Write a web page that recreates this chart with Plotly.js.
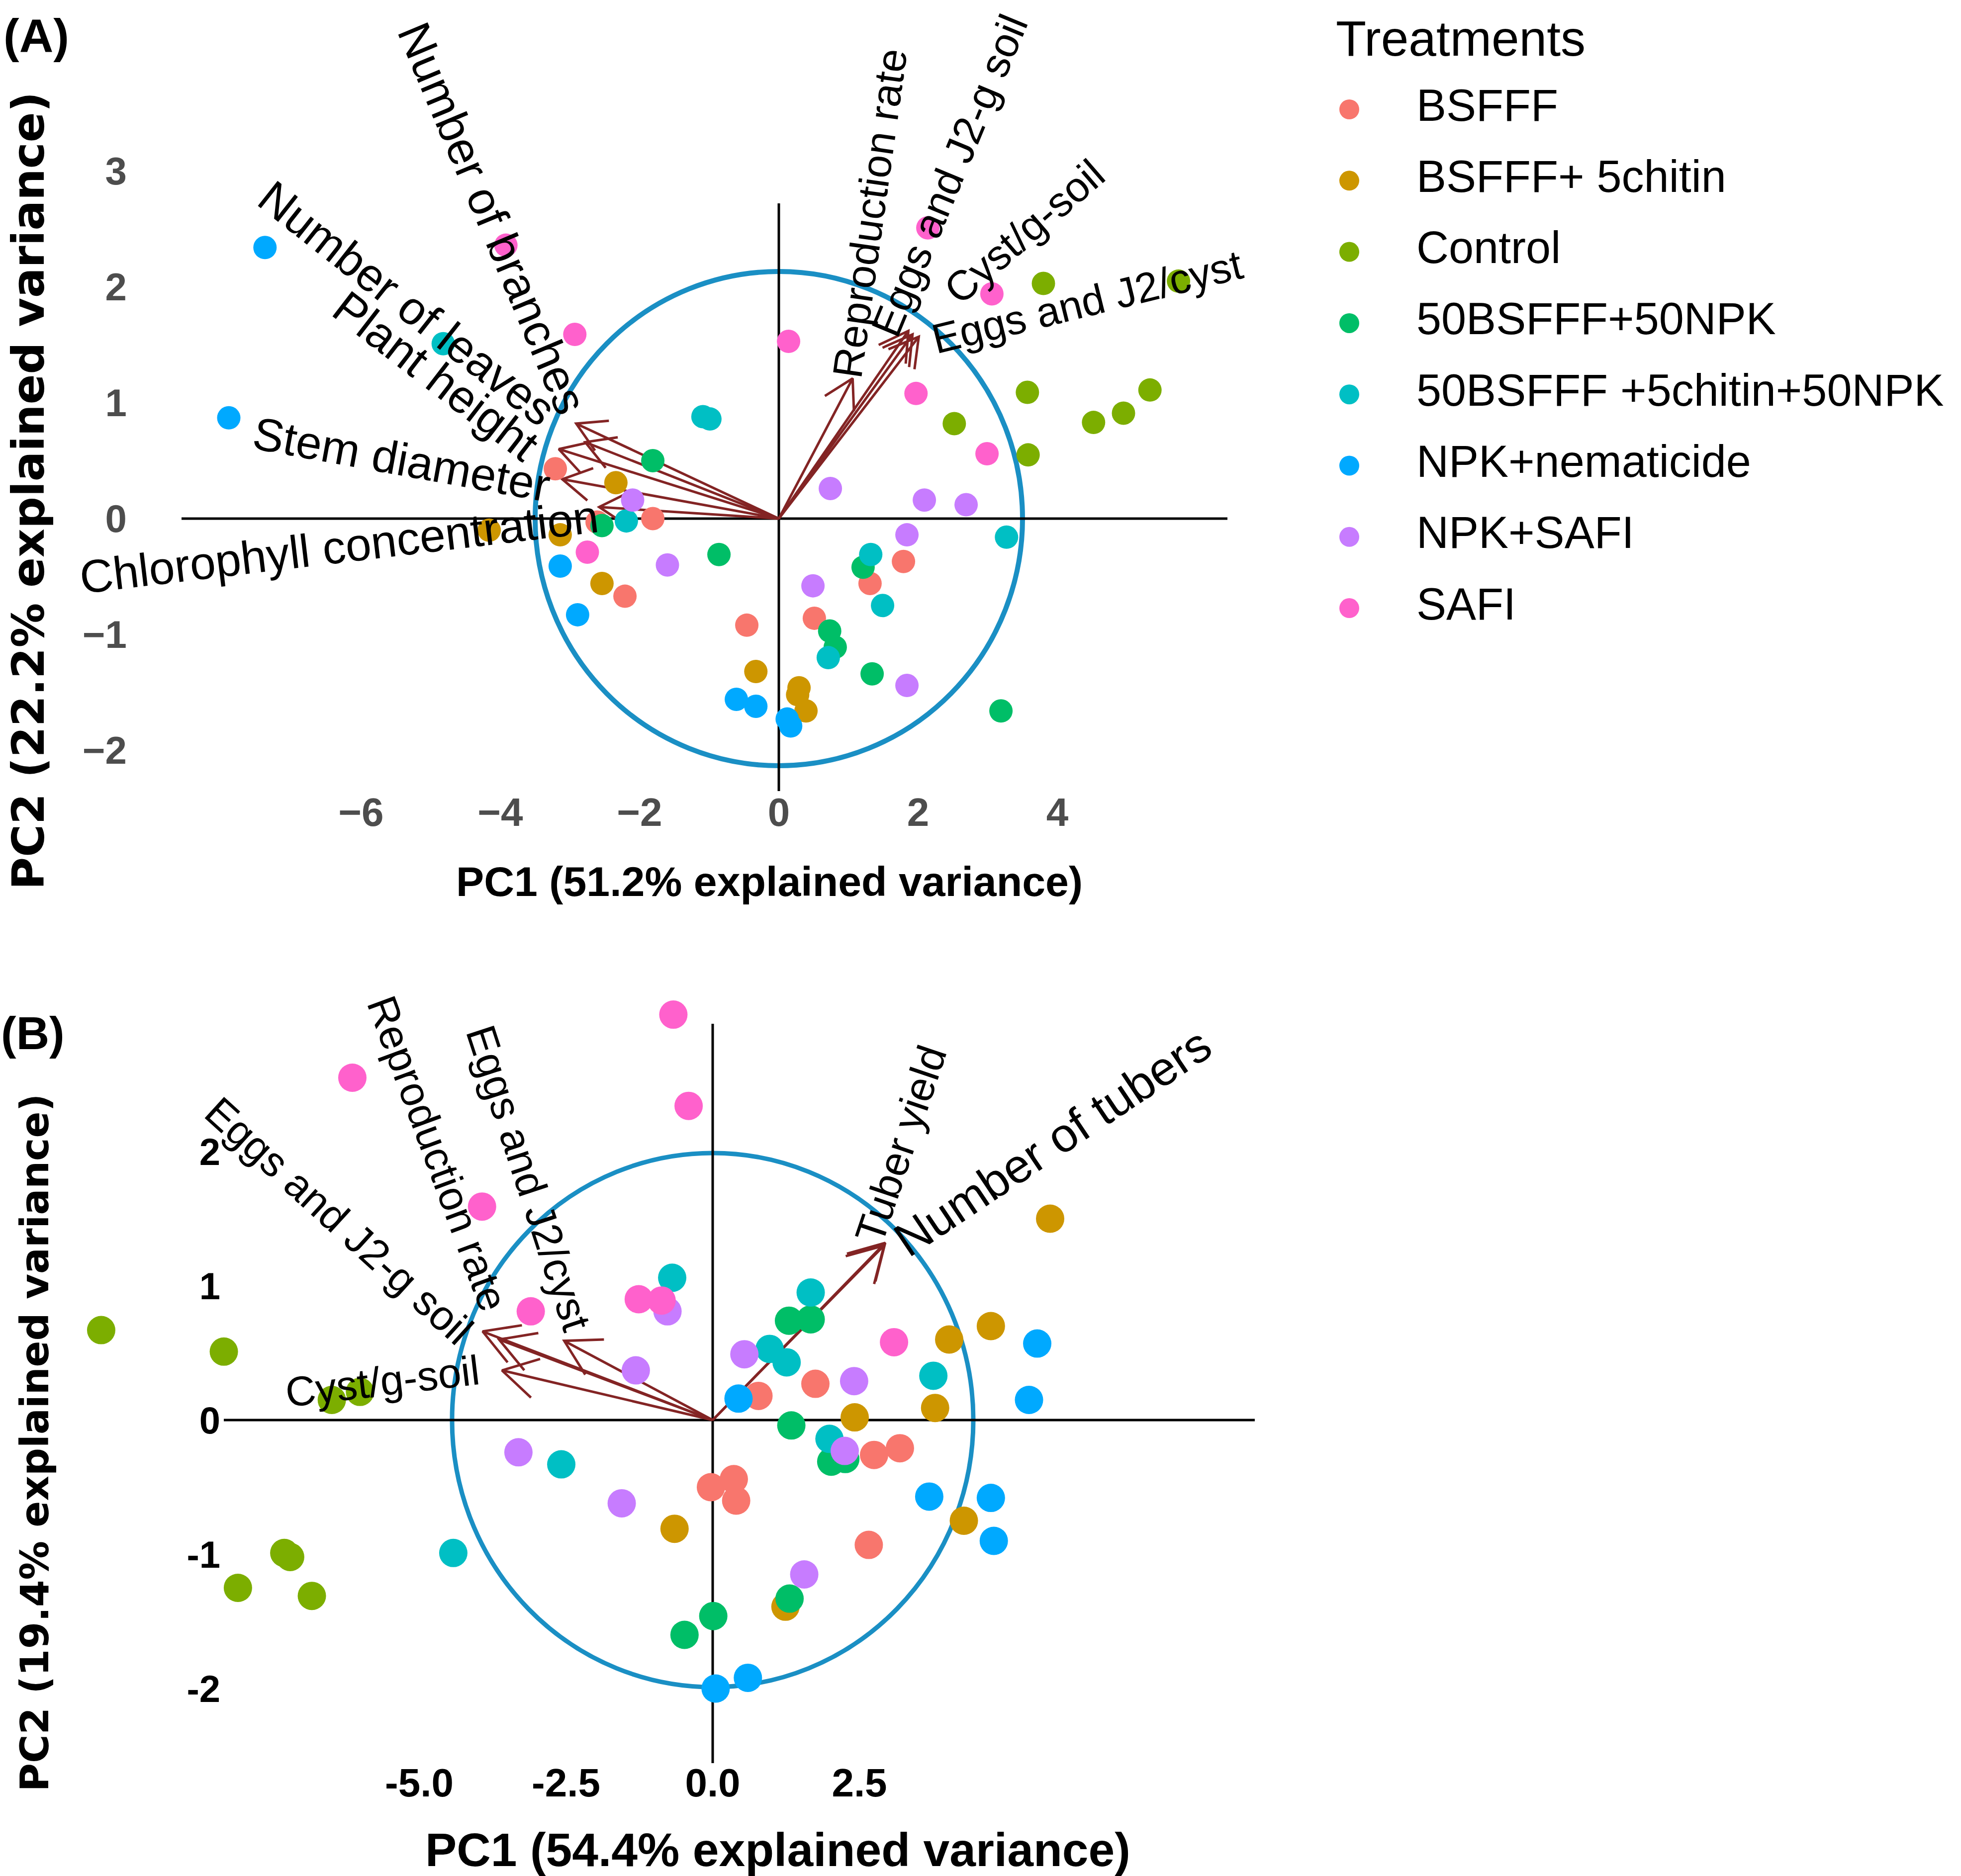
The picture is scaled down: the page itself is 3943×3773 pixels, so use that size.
<!DOCTYPE html>
<html><head><meta charset="utf-8">
<script src="https://cdn.plot.ly/plotly-3.0.1.min.js"></script>
<style>html,body{margin:0;padding:0;background:#fff;}</style>
</head><body>
<div id="chart" style="width:3943px;height:3773px;"></div>
<script>
// ---------------- DATA ----------------
const treatments = ['BSFFF','BSFFF+ 5chitin','Control','50BSFFF+50NPK','50BSFFF +5chitin+50NPK','NPK+nematicide','NPK+SAFI','SAFI'];
const treatmentColors = ['#F8766D','#CD9600','#7CAE00','#00BE67','#00BFC4','#00A9FF','#C77CFF','#FF61CC'];

// Panel A scores (one row per treatment, same order as treatments)
const pc1A = [
  [-3.21,-1.81,-2.61,-2.21,-0.46,1.79,1.31,0.51],
  [-2.34,-4.16,-3.14,-2.54,-0.33,0.29,0.27,0.39],
  [3.80,5.74,3.57,5.33,4.95,4.52,2.52,3.58],
  [-1.81,-2.54,-0.86,1.21,0.73,0.81,1.34,3.19],
  [-4.82,-1.09,-0.99,-2.19,3.27,1.32,1.49,0.71],
  [-7.38,-7.90,-3.14,-2.89,-0.61,-0.33,0.12,0.17],
  [-2.10,-1.60,0.74,2.09,2.69,1.84,0.49,1.84],
  [-3.92,-2.93,0.14,2.14,3.06,1.97,2.99,-2.75]
];
const pc2A = [
  [0.43,0.00,-0.03,-0.67,-0.92,-0.37,-0.56,-0.86],
  [0.31,-0.10,-0.14,-0.56,-1.32,-1.46,-1.52,-1.66],
  [2.03,2.05,1.09,1.11,0.91,0.83,0.82,0.55],
  [0.50,-0.06,-0.31,-0.42,-0.97,-1.11,-1.34,-1.66],
  [1.51,0.88,0.86,-0.02,-0.16,-0.31,-0.75,-1.20],
  [2.34,0.87,-0.41,-0.83,-1.56,-1.62,-1.73,-1.79],
  [0.16,-0.40,0.26,0.16,0.12,-0.14,-0.58,-1.44],
  [2.36,1.59,1.53,2.51,1.94,1.08,0.56,-0.29]
];
// Panel B scores
const pc1B = [
  [0.78,1.75,2.75,3.19,-0.03,0.36,0.40,2.66],
  [5.75,4.03,4.74,3.79,2.42,-0.65,4.28,1.24],
  [-10.42,-8.33,-6.49,-6.01,-7.30,-7.20,-8.09,-6.83],
  [1.30,1.67,1.34,2.02,2.26,1.31,0.01,-0.48],
  [-0.69,1.67,0.97,1.26,3.76,1.99,-2.58,-4.42],
  [5.53,5.39,0.44,3.69,4.74,4.79,0.05,0.60],
  [-0.77,-1.31,0.54,2.41,2.25,-3.31,-1.55,1.56],
  [-6.14,-0.67,-0.41,-3.93,-3.10,-1.26,-0.87,3.09]
];
const pc2B = [
  [0.18,0.27,-0.26,-0.21,-0.50,-0.44,-0.60,-0.93],
  [1.50,0.60,0.70,0.09,0.02,-0.81,-0.75,-1.39],
  [0.67,0.51,0.15,0.21,-0.99,-1.02,-1.25,-1.31],
  [0.74,0.75,-0.04,-0.31,-0.29,-1.33,-1.46,-1.60],
  [1.06,0.95,0.53,0.43,0.33,-0.14,-0.33,-0.99],
  [0.57,0.15,0.16,-0.57,-0.58,-0.90,-2.00,-1.92],
  [0.81,0.37,0.49,0.29,-0.23,-0.24,-0.62,-1.15],
  [2.55,3.02,2.34,1.59,0.81,0.90,0.89,0.58]
];

// Variable loadings (arrow tips)
const varsA = ['Number of branches','Number of leaves','Plant height','Stem diameter','Chlorophyll concentration','Reproduction rate','Eggs and J2-g soil','Cyst/g-soil','Eggs and J2/cyst'];
const load1A = [-2.91,-2.78,-3.16,-3.11,-2.58,1.06,1.86,1.92,2.01];
const load2A = [0.82,0.66,0.60,0.34,0.10,1.21,1.62,1.59,1.57];
const varsB = ['Eggs and J2-g soil','Reproduction rate','Cyst/g-soil','Eggs and J2/cyst','Tuber yield','Number of tubers'];
const load1B = [-3.92,-3.64,-3.59,-2.53,2.92,2.94];
const load2B = [0.66,0.60,0.37,0.59,1.30,1.32];

// Correlation circle radii (data units)
const circleA = [3.50, 2.133];
const circleB = [4.441, 1.989];

// Axis tick labels
const xTickValsA = [-6,-4,-2,0,2,4];   const xTickTextA = ['\u22126','\u22124','\u22122','0','2','4'];
const yTickValsA = [-2,-1,0,1,2,3];    const yTickTextA = ['\u22122','\u22121','0','1','2','3'];
const xTickValsB = [-5,-2.5,0,2.5];    const xTickTextB = ['-5.0','-2.5','0.0','2.5'];
const yTickValsB = [-2,-1,0,1,2];      const yTickTextB = ['-2','-1','0','1','2'];

const titleXA = 'PC1 (51.2% explained variance)', titleYA = 'PC2 (22.2% explained variance)';
const titleXB = 'PC1 (54.4% explained variance)', titleYB = 'PC2 (19.4% explained variance)';

// ---------------- STYLE / GEOMETRY ----------------
const W = 3943, H = 3773;
const ctx = document.createElement('canvas').getContext('2d');
function fontAvailable(fam){
  const s='abcdefghijklmnopqrstuvwxyz0123456789ABCDEF';
  ctx.font='72px monospace'; const w0=ctx.measureText(s).width;
  ctx.font='72px "'+fam+'", monospace'; const w1=ctx.measureText(s).width;
  ctx.font='72px serif'; const w2=ctx.measureText(s).width;
  ctx.font='72px "'+fam+'", serif'; const w3=ctx.measureText(s).width;
  return w0!==w1 || w2!==w3;
}
const SANS = '"Liberation Sans", Arial, sans-serif';
const narrowName = ['Liberation Sans Narrow','Arial Narrow','Nimbus Sans Narrow'].find(fontAvailable);
const NARROW = narrowName ? '"'+narrowName+'", '+SANS : SANS;
const WIDE = '"DejaVu Sans", Verdana, sans-serif';
function fitSize(text, family, weight, target, maxSize){
  ctx.font = weight+' 100px '+family;
  return Math.min(maxSize, 100*target/ctx.measureText(text).width);
}
function textWidth(str,size){ ctx.font = size+'px '+SANS; return ctx.measureText(str).width; }

const ARROW_COLOR = '#832424', CIRCLE_COLOR = '#1a8fc4';

// pixel geometry of each panel: plot box, zero position, px per unit
const GA = {x0:365, x1:2729, zx:1566, kx:140, y0:290, y1:1684, zy:1043, ky:233, xAxisY:1580, yAxisX:255,
            hLine:[365,2468], vLine:[409,1591], head:66};
const GB = {x0:190, x1:2938, zx:1433, kx:118, y0:2030, y1:3773, zy:2856, ky:270, xAxisY:3532, yAxisX:443,
            hLine:[450,2523], vLine:[2059,3546], head:80};

// label placement style: font size, text angle (deg, reading direction), gap along text from arrow tip, perpendicular shift
const labelStyleA = [
  {size:93, angle:-67.3, gap:25, perp:4},
  {size:93, angle:-38.3, gap:90, perp:-3},
  {size:93, angle:-37.6, gap:40, perp:-34},
  {size:93, angle:-10.3, gap:23, perp:-19},
  {size:93, angle:6.8, gap:4, perp:-18},
  {size:84, angle:82, gap:0, perp:12},
  {size:84, angle:67.5, gap:-25, perp:43},
  {size:84, angle:40.8, gap:109, perp:9},
  {size:84, angle:13.9, gap:26, perp:-13}
];
const labelStyleB = [
  {size:84, angle:-42.3, gap:18, perp:-30},
  {size:84, angle:-69.7, gap:60, perp:14},
  {size:84, angle:6.8, gap:45, perp:7},
  {size:84, angle:-71.9, gap:13, perp:34},
  {size:84, angle:71.4, gap:-2, perp:33},
  {size:96, angle:33.8, gap:22, perp:-18}
];

function xCfg(g){ return {domain:[g.x0/W, g.x1/W], range:[(g.x0-g.zx)/g.kx, (g.x1-g.zx)/g.kx]}; }
function yCfg(g){ return {domain:[1-g.y1/H, 1-g.y0/H], range:[(g.zy-g.y1)/g.ky, (g.zy-g.y0)/g.ky]}; }
function pxToX(g,px){ return (px-g.zx)/g.kx; }
function pxToY(g,py){ return (g.zy-py)/g.ky; }

// arrows drawn as line traces (shaft + open head, 30 degrees)
function arrowTrace(l1, l2, g, xa, ya){
  const xs=[], ys=[]; const a = 30*Math.PI/180;
  for(let i=0;i<l1.length;i++){
    const tx=l1[i], ty=l2[i];
    const vx=tx*g.kx, vy=ty*g.ky, L=Math.hypot(vx,vy);
    const bx=-vx/L, by=-vy/L;
    const arms=[a,-a].map(t=>{
      const rx=bx*Math.cos(t)-by*Math.sin(t), ry=bx*Math.sin(t)+by*Math.cos(t);
      return [tx+rx*g.head/g.kx, ty+ry*g.head/g.ky];
    });
    xs.push(0,tx,null,arms[0][0],tx,arms[1][0],null);
    ys.push(0,ty,null,arms[0][1],ty,arms[1][1],null);
  }
  return {type:'scatter', mode:'lines', x:xs, y:ys, xaxis:xa, yaxis:ya,
    line:{color:ARROW_COLOR, width:5}, hoverinfo:'skip', showlegend:false};
}

function varLabels(names,l1,l2,styles,xref,yref){
  return names.map((name,i)=>{
    const st=styles[i], th=st.angle*Math.PI/180, s=Math.sign(l1[i]);
    const along = s*(st.gap + textWidth(name,st.size)/2);
    const dx = along*Math.cos(th) - st.perp*Math.sin(th);
    const dyS = -along*Math.sin(th) - st.perp*Math.cos(th);
    return {x:l1[i], y:l2[i], xref:xref, yref:yref, text:name, showarrow:false,
      textangle:-st.angle, xanchor:'center', yanchor:'middle', xshift:dx, yshift:-dyS,
      font:{family:SANS, size:st.size, color:'#000'}};
  });
}

function pointTraces(p1,p2,xa,ya,size){
  return treatments.map((t,i)=>({type:'scatter', mode:'markers', name:t, x:p1[i], y:p2[i],
    xaxis:xa, yaxis:ya, marker:{color:treatmentColors[i], size:size, line:{width:0}},
    cliponaxis:false, showlegend:false, hoverinfo:'skip'}));
}

function frameShapes(g, circ, xref, yref, lw, cw){
  return [
    {type:'circle', xref:xref, yref:yref, x0:-circ[0], x1:circ[0], y0:-circ[1], y1:circ[1],
      line:{color:CIRCLE_COLOR, width:cw}, layer:'below'},
    {type:'line', xref:xref, yref:yref, x0:pxToX(g,g.hLine[0]), x1:pxToX(g,g.hLine[1]), y0:0, y1:0,
      line:{color:'#000', width:lw}, layer:'below'},
    {type:'line', xref:xref, yref:yref, x0:0, x1:0, y0:pxToY(g,g.vLine[1]), y1:pxToY(g,g.vLine[0]),
      line:{color:'#000', width:lw}, layer:'below'}
  ];
}

// legend subplot geometry
const LG = {x0:2600, x1:3943, zx:2713, kx:135, y0:20, y1:1300, zy:220, ky:143.3};
const legendX = treatments.map(()=>0), legendY = treatments.map((_,i)=>-i);

const data = [
  arrowTrace(load1A, load2A, GA, 'x', 'y'),
  arrowTrace(load1B, load2B, GB, 'x2', 'y2'),
  ...pointTraces(pc1A, pc2A, 'x', 'y', 47),
  ...pointTraces(pc1B, pc2B, 'x2', 'y2', 57),
  {type:'scatter', mode:'markers', x:legendX, y:legendY, xaxis:'x3', yaxis:'y3',
    marker:{color:treatmentColors, size:40}, showlegend:false, hoverinfo:'skip', cliponaxis:false},
  {type:'scatter', mode:'text', x:legendX.map(v=>v+1), y:legendY, xaxis:'x3', yaxis:'y3',
    text:treatments, textposition:'middle right', textfont:{family:SANS, size:90, color:'#000'},
    showlegend:false, hoverinfo:'skip', cliponaxis:false}
];

const baseAxis = {showgrid:false, zeroline:false, showline:false, ticks:'', fixedrange:true, anchor:'free', automargin:false};
const tickSizeX = narrowName ? 84 : 80;

const layout = {
  width:W, height:H, margin:{l:0,r:0,t:0,b:0}, paper_bgcolor:'#fff', plot_bgcolor:'rgba(0,0,0,0)',
  showlegend:false, hovermode:false,
  xaxis: Object.assign({}, baseAxis, xCfg(GA), {position:1-GA.xAxisY/H, tickmode:'array', tickvals:xTickValsA, ticktext:xTickTextA,
    tickfont:{family:NARROW, size:tickSizeX, color:'#4d4d4d', weight:'bold'},
    title:{text:titleXA, font:{family:NARROW, size:fitSize(titleXA, NARROW, 'bold', 1260, 100), color:'#000', weight:'bold'}, standoff:66}}),
  yaxis: Object.assign({}, baseAxis, yCfg(GA), {position:GA.yAxisX/W, tickmode:'array', tickvals:yTickValsA, ticktext:yTickTextA,
    tickfont:{family:NARROW, size:78, color:'#4d4d4d', weight:'bold'},
    title:{text:titleYA, font:{family:WIDE, size:fitSize(titleYA, WIDE, 'bold', 1605, 95), color:'#000', weight:'bold'}, standoff:46}}),
  xaxis2: Object.assign({}, baseAxis, xCfg(GB), {position:1-GB.xAxisY/H, tickmode:'array', tickvals:xTickValsB, ticktext:xTickTextB,
    tickfont:{family:NARROW, size:tickSizeX, color:'#000', weight:'bold'},
    title:{text:titleXB, font:{family:SANS, size:fitSize(titleXB, SANS, 'bold', 1418, 100), color:'#000', weight:'bold'}, standoff:58}}),
  yaxis2: Object.assign({}, baseAxis, yCfg(GB), {position:GB.yAxisX/W, tickmode:'array', tickvals:yTickValsB, ticktext:yTickTextB,
    tickfont:{family:SANS, size:76, color:'#000', weight:'bold'},
    title:{text:titleYB, font:{family:WIDE, size:fitSize(titleYB, WIDE, 'bold', 1404, 85), color:'#000', weight:'bold'}, standoff:250}}),
  xaxis3: Object.assign({}, baseAxis, xCfg(LG), {visible:false}),
  yaxis3: Object.assign({}, baseAxis, yCfg(LG), {visible:false}),
  shapes: [...frameShapes(GA, circleA, 'x', 'y', 5, 10), ...frameShapes(GB, circleB, 'x2', 'y2', 5, 9)],
  annotations: [
    ...varLabels(varsA, load1A, load2A, labelStyleA, 'x', 'y'),
    ...varLabels(varsB, load1B, load2B, labelStyleB, 'x2', 'y2'),
    {xref:'paper', yref:'paper', x:5/W, y:1-72/H, xanchor:'left', yanchor:'middle', showarrow:false,
      text:'(A)', font:{family:SANS, size:95, color:'#000', weight:'bold'}},
    {xref:'paper', yref:'paper', x:0, y:1-2078/H, xanchor:'left', yanchor:'middle', showarrow:false,
      text:'(B)', font:{family:SANS, size:92, color:'#000', weight:'bold'}},
    {xref:'paper', yref:'paper', x:2684/W, y:1-77/H, xanchor:'left', yanchor:'middle', showarrow:false,
      text:'Treatments', font:{family:SANS, size:100, color:'#000'}}
  ]
};

Plotly.newPlot('chart', data, layout, {staticPlot:true, displayModeBar:false});
</script>
</body></html>
